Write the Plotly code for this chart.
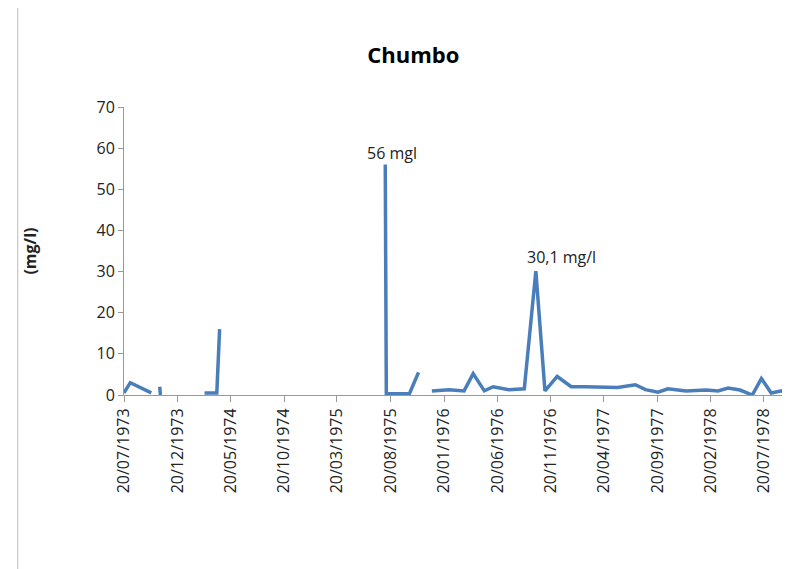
import plotly.graph_objects as go
import pandas as pd

dates = ["1973-07-20", "1973-08-07", "1973-10-06", None, "1973-10-30", "1973-11-01", None,
         "1974-03-07", "1974-04-11", "1974-04-19", None,
         "1975-08-05", "1975-08-08", "1975-10-13", "1975-11-08", None,
         "1975-12-16", "1976-02-03", "1976-03-17", "1976-04-12", "1976-05-14", "1976-06-08",
         "1976-07-23", "1976-09-05", "1976-10-08", "1976-11-03", "1976-12-08", "1977-01-17",
         "1977-02-26", "1977-04-23", "1977-05-29", "1977-07-19", "1977-08-17", "1977-09-22",
         "1977-10-20", "1977-12-11", "1978-02-06", "1978-03-12", "1978-04-10", "1978-05-14",
         "1978-06-18", "1978-07-14", "1978-08-11", "1978-09-10", "1978-09-25"]
values = [0.5, 3, 0.5, None, 2, 0, None,
          0.5, 0.5, 16, None,
          56, 0.3, 0.3, 5.5, None,
          1, 1.3, 1, 5.2, 1, 2,
          1.3, 1.5, 30.1, 1, 4.5, 2,
          2, 1.8, 1.8, 2.5, 1.3, 0.7,
          1.5, 1, 1.2, 1, 1.7, 1.2,
          0, 4, 0.5, 1, 0.5]
tick_dates = pd.date_range("1973-07-20", periods=13, freq=pd.DateOffset(months=5))
tick_labels = [d.strftime("%d/%m/%Y") for d in tick_dates]

fig = go.Figure(go.Scatter(x=dates, y=values, mode="lines", connectgaps=False,
                           line=dict(color="#4a7ebb", width=3.5)))
fig.add_annotation(x="1975-08-25", y=56, text="56 mgl", showarrow=False, yshift=12,
                   font=dict(size=16, color="#222"))
fig.add_annotation(x="1976-12-20", y=30.1, text="30,1 mg/l", showarrow=False, yshift=14,
                   font=dict(size=16, color="#222"))
fig.update_layout(
    width=790, height=569, paper_bgcolor="white", plot_bgcolor="white",
    margin=dict(l=116, r=10, t=99, b=182), showlegend=False,
    font=dict(family="Open Sans, Liberation Sans, sans-serif", size=15, color="#222"),
    title=dict(text="<b>Chumbo</b>", x=0.513, y=0.93, xanchor="center",
               font=dict(size=22, color="#000")),
    shapes=[dict(type="rect", xref="paper", yref="paper", x0=-0.16, x1=1.0, y0=-0.64, y1=1.4,
                 line=dict(color="#bbb", width=1))],
)
fig.update_xaxes(type="date", range=["1973-07-20", "1978-09-28"], tickvals=tick_dates,
                 ticktext=tick_labels, tickangle=-90, ticks="outside", ticklen=6,
                 tickcolor="#999", showline=True, linecolor="#999", showgrid=False,
                 tickfont=dict(size=16))
fig.update_yaxes(range=[0, 70], dtick=10, ticks="outside", ticklen=5, tickcolor="#999",
                 showline=True, linecolor="#999", showgrid=False, zeroline=False,
                 tickfont=dict(size=16),
                 title=dict(text="<b>(mg/l)</b>", standoff=55, font=dict(size=16)))
fig.write_html("out.html")
